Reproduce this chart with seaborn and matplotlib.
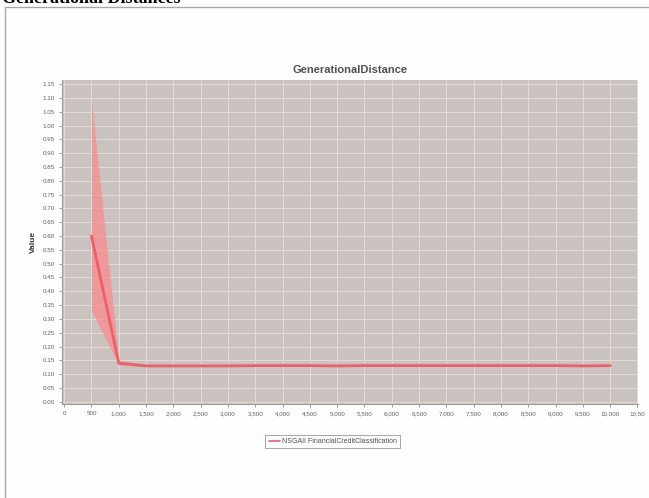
import matplotlib
matplotlib.use("Agg")
import matplotlib.pyplot as plt
import seaborn as sns
import pandas as pd
import numpy as np
from matplotlib.lines import Line2D

# ---- data ----
evaluations = [500, 1000, 1500, 2000, 2500, 3000, 3500, 4000, 4500, 5000,
               5500, 6000, 6500, 7000, 7500, 8000, 8500, 9000, 9500, 10000]
mean_gd = [0.60, 0.140, 0.130, 0.130, 0.130, 0.130, 0.131, 0.131, 0.131, 0.130,
           0.131, 0.131, 0.131, 0.131, 0.131, 0.131, 0.131, 0.131, 0.130, 0.131]
low_gd = [0.33, 0.133, 0.127, 0.127, 0.127, 0.127, 0.128, 0.128, 0.128, 0.127,
          0.128, 0.128, 0.128, 0.128, 0.128, 0.128, 0.128, 0.128, 0.127, 0.128]
high_gd = [1.09, 0.150, 0.134, 0.133, 0.133, 0.133, 0.134, 0.134, 0.134, 0.133,
           0.134, 0.134, 0.134, 0.134, 0.134, 0.134, 0.134, 0.134, 0.133, 0.134]
series_name = "NSGAII FinancialCreditClassification"
y_ticks = [round(0.05 * i, 2) for i in range(24)]
x_ticks = list(range(0, 10501, 500))

df = pd.DataFrame({"Evaluations": evaluations, "Value": mean_gd,
                   "low": low_gd, "high": high_gd})

sns.set_theme(style="white")
plt.rcParams["font.family"] = ["Liberation Sans", "DejaVu Sans"]

fig = plt.figure(figsize=(6.49, 4.98), dpi=100)
fig.patch.set_facecolor("#fefefe")

ax = fig.add_axes([62 / 649, 1 - 404 / 498, (638 - 62) / 649, (404 - 80) / 498])
plot_bg = "#c9c2be"
ax.set_facecolor(plot_bg)

line_color = "#ee5f68"
band_color = "#fa8a90"

ax.fill_between(df["Evaluations"], df["low"], df["high"],
                color=band_color, alpha=0.75, linewidth=0, zorder=2)
sns.lineplot(data=df, x="Evaluations", y="Value", ax=ax, color=line_color,
             linewidth=2.0, zorder=3, legend=False)

ax.set_xlim(-40, 10510)
ax.set_ylim(-0.008, 1.165)
ax.set_xticks(x_ticks)
ax.set_xticklabels([f"{t:,}" if t < 10500 else "10,50" for t in x_ticks])
ax.set_yticks(y_ticks)
ax.set_yticklabels([f"{t:.2f}" for t in y_ticks])

ax.grid(True, color="#e2dcd8", linewidth=0.7, zorder=0)
ax.set_axisbelow(True)

ax.tick_params(axis="both", labelsize=4.5, colors="#707070", length=2,
               width=0.5, pad=3, direction="out")
ax.tick_params(axis="x", bottom=True)
ax.tick_params(axis="y", left=True)
for lab in ax.get_xticklabels() + ax.get_yticklabels():
    lab.set_color("#606060")

for side in ["top", "right"]:
    ax.spines[side].set_visible(False)
for side in ["left", "bottom"]:
    ax.spines[side].set_color("#a09c98")
    ax.spines[side].set_linewidth(0.8)

ax.set_xlabel("")
ax.set_ylabel("Value", fontsize=6, color="#383838", fontweight="bold",
              labelpad=4)
ax.set_title("GenerationalDistance", fontsize=8, fontweight="bold",
             color="#505050", pad=5)

handle = Line2D([0], [0], color=line_color, linewidth=1.2)
leg = ax.legend([handle], [series_name], loc="upper center",
                bbox_to_anchor=(0.47, -0.085), fontsize=5, frameon=True,
                fancybox=False, handlelength=1.6, handletextpad=0.3,
                borderpad=0.45, labelcolor="#505050")
leg.get_frame().set_edgecolor("#808080")
leg.get_frame().set_linewidth(0.6)
leg.get_frame().set_facecolor("#ffffff")

# outer page frame and cut-off heading
fig.add_artist(Line2D([5 / 649, 1.0], [1 - 7 / 498, 1 - 7 / 498],
                      color="#a8a8a8", linewidth=1.0, transform=fig.transFigure))
fig.add_artist(Line2D([5 / 649, 5 / 649], [0, 1 - 7 / 498],
                      color="#a8a8a8", linewidth=1.0, transform=fig.transFigure))
fig.text(2 / 649, 1 - 3 / 498, "Generational Distances",
         family=["Liberation Serif", "DejaVu Serif"], fontweight="bold",
         fontsize=13, va="baseline", ha="left", color="#000000")

fig.savefig("out.png", dpi=100, facecolor=fig.get_facecolor())
